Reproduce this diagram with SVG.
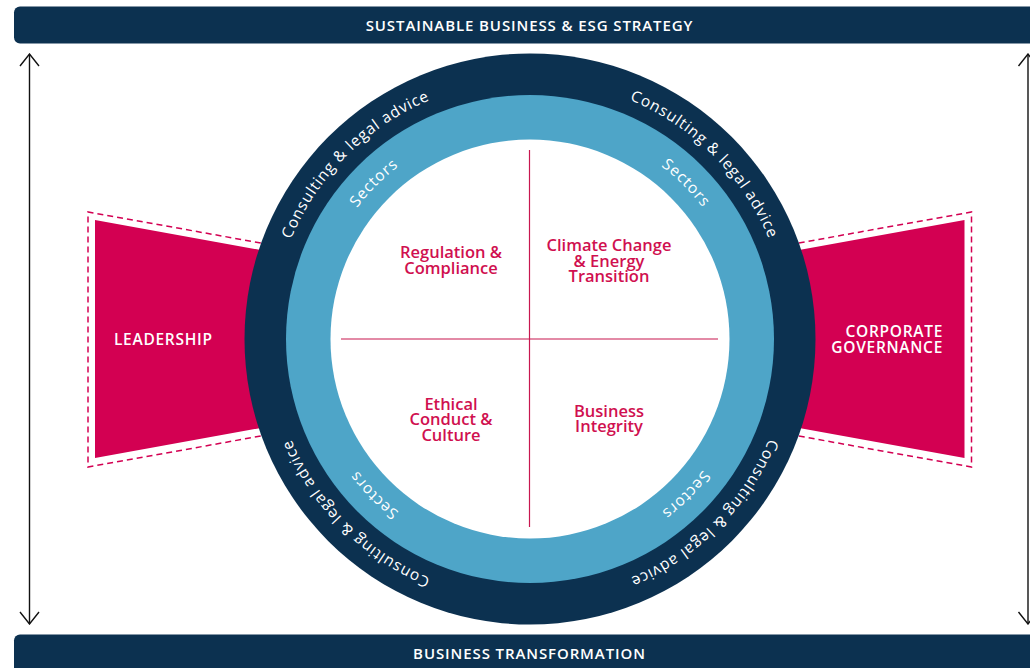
<svg xmlns="http://www.w3.org/2000/svg" xmlns:xlink="http://www.w3.org/1999/xlink" width="1030" height="668" viewBox="0 0 1030 668">
<defs>
<style>
.bar{fill:#0c3150}
.bartext{font-family:"Open Sans","Liberation Sans",sans-serif;font-weight:600;font-size:15px;letter-spacing:0.9px;fill:#ffffff;text-anchor:middle}
.trap{fill:#d30052}
.dash{fill:none;stroke:#d30052;stroke-width:1.5;stroke-dasharray:6 4}
.traptext{font-family:"Open Sans","Liberation Sans",sans-serif;font-weight:600;font-size:15.5px;letter-spacing:0.7px;fill:#ffffff}
.arc1{font-family:"Open Sans","Liberation Sans",sans-serif;font-weight:500;font-size:15.5px;letter-spacing:0.9px;fill:#ffffff;text-anchor:middle}
.qtext{font-family:"Open Sans","Liberation Sans",sans-serif;font-weight:600;font-size:16.5px;fill:#d0104f;text-anchor:middle}
.qline{stroke:#c8174f;stroke-width:1.2}
.conn{stroke:#111111;stroke-width:1.4;fill:none}
</style>
<marker id="chev" markerUnits="userSpaceOnUse" viewBox="-1 -11 14 22" refX="12" refY="0" markerWidth="14" markerHeight="22" orient="auto-start-reverse">
<path d="M0,-9.5 L12,0 L0,9.5" fill="none" stroke="#111111" stroke-width="1.4"/>
</marker>
<path id="ringOuter" d="M271,339 A259,259 0 1 1 789,339 A259,259 0 1 1 271,339"/>
<path id="ringInner" d="M313,339 A217,217 0 1 1 747,339 A217,217 0 1 1 313,339"/>
</defs>
<rect width="1030" height="668" fill="#ffffff"/>

<g id="top-bar">
<rect class="bar" x="14" y="6.5" width="1030" height="37" rx="6"/>
<text class="bartext" x="529.5" y="31">SUSTAINABLE BUSINESS &amp; ESG STRATEGY</text>
</g>

<g id="bottom-bar">
<rect class="bar" x="14" y="634.5" width="1030" height="50" rx="6"/>
<text class="bartext" x="529.5" y="659">BUSINESS TRANSFORMATION</text>
</g>

<g id="connectors">
<line class="conn" x1="29.5" y1="624" x2="29.5" y2="54" marker-start="url(#chev)" marker-end="url(#chev)"/>
<line class="conn" x1="1028" y1="624" x2="1028" y2="54" marker-start="url(#chev)" marker-end="url(#chev)"/>
</g>

<g id="leadership">
<polygon class="dash" points="310,251.8 88,212 88,467 310,427.2"/>
<polygon class="trap" points="95,220 310,259 310,419 95,458"/>
<text class="traptext" x="114" y="345">LEADERSHIP</text>
</g>

<g id="corporate-governance">
<polygon class="dash" points="749.5,251.8 971.5,212 971.5,467 749.5,427.2"/>
<polygon class="trap" points="964.5,220 749.5,259 749.5,419 964.5,458"/>
<text class="traptext" x="943" y="336.5" text-anchor="end">CORPORATE</text>
<text class="traptext" x="943" y="352.5" text-anchor="end">GOVERNANCE</text>
</g>

<g id="circle">
<circle cx="530" cy="339" r="285.5" fill="#0c3150"/>
<circle cx="530" cy="339" r="244" fill="#4ea5c8"/>
<circle cx="530" cy="339" r="199.5" fill="#ffffff"/>
<text class="arc1"><textPath xlink:href="#ringOuter" href="#ringOuter" startOffset="12.5%">Consulting &amp; legal advice</textPath></text>
<text class="arc1"><textPath xlink:href="#ringOuter" href="#ringOuter" startOffset="37.5%">Consulting &amp; legal advice</textPath></text>
<text class="arc1"><textPath xlink:href="#ringOuter" href="#ringOuter" startOffset="62.5%">Consulting &amp; legal advice</textPath></text>
<text class="arc1"><textPath xlink:href="#ringOuter" href="#ringOuter" startOffset="87.5%">Consulting &amp; legal advice</textPath></text>
<text class="arc1"><textPath xlink:href="#ringInner" href="#ringInner" startOffset="12.5%">Sectors</textPath></text>
<text class="arc1"><textPath xlink:href="#ringInner" href="#ringInner" startOffset="37.5%">Sectors</textPath></text>
<text class="arc1"><textPath xlink:href="#ringInner" href="#ringInner" startOffset="62.5%">Sectors</textPath></text>
<text class="arc1"><textPath xlink:href="#ringInner" href="#ringInner" startOffset="87.5%">Sectors</textPath></text>
</g>

<g id="quadrants">
<line class="qline" x1="341" y1="339" x2="718" y2="339"/>
<line class="qline" x1="529.5" y1="150" x2="529.5" y2="527"/>
</g>

<g id="regulation-compliance">
<text class="qtext" x="451" y="258">Regulation &amp;</text>
<text class="qtext" x="451" y="273.5">Compliance</text>
</g>
<g id="climate-change">
<text class="qtext" x="609" y="251">Climate Change</text>
<text class="qtext" x="609" y="266.5">&amp; Energy</text>
<text class="qtext" x="609" y="282">Transition</text>
</g>
<g id="ethical-conduct">
<text class="qtext" x="451" y="409.5">Ethical</text>
<text class="qtext" x="451" y="425">Conduct &amp;</text>
<text class="qtext" x="451" y="440.5">Culture</text>
</g>
<g id="business-integrity">
<text class="qtext" x="609" y="416.5">Business</text>
<text class="qtext" x="609" y="432">Integrity</text>
</g>
</svg>
